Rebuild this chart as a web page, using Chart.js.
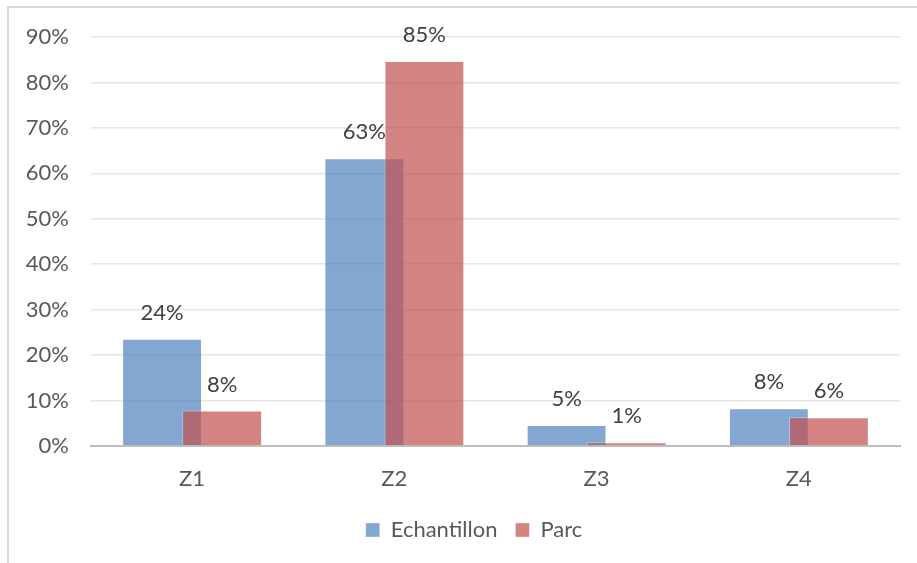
<!DOCTYPE html>
<html>
<head>
<meta charset="utf-8">
<script src="https://cdn.jsdelivr.net/npm/chart.js@4.4.1/dist/chart.umd.min.js"></script>
<style>
  html, body { margin: 0; padding: 0; background: #ffffff; }
  #wrap { position: relative; width: 917px; height: 563px; overflow: hidden; }
  #frame { position: absolute; left: 7px; top: 6px; width: 940px; height: 600px;
           border-left: 2px solid #d9d9d9; border-top: 2px solid #d9d9d9; box-sizing: border-box; }
  #chart { position: absolute; left: 0; top: 0; }
</style>
</head>
<body>
<div id="wrap">
  <div id="frame"></div>
  <canvas id="chart" width="917" height="563"></canvas>
</div>
<script>
// Share of each zone (%), sample vs. fleet
const categories = ['Z1', 'Z2', 'Z3', 'Z4'];
const echantillon = [23.6, 63.3, 4.6, 8.3];
const parc = [7.8, 84.7, 0.8, 6.3];
const seriesNames = ['Echantillon', 'Parc'];

const FONT = 'Lato, "Open Sans", sans-serif';
const BLUE = 'rgba(79, 129, 189, 0.7)';
const RED = 'rgba(192, 80, 77, 0.7)';

// Draw "Parc" after "Echantillon" so it sits on top where the bars overlap,
// then write the value above every bar.
const overlapAndLabels = {
  id: 'overlapAndLabels',
  afterLayout(chart) {
    // centre the legend under the plot area rather than the whole canvas
    const lg = chart.legend;
    if (lg) { lg.left += 24; lg.right += 24; }
  },
  beforeDatasetDraw(chart, args) {
    if (args.index === 1) return false;
  },
  afterDatasetsDraw(chart) {
    const ctx = chart.ctx;
    const redMeta = chart.getDatasetMeta(1);
    if (!redMeta.hidden) redMeta.controller.draw();
    ctx.save();
    ctx.font = '22px ' + FONT;
    ctx.fillStyle = '#404040';
    ctx.textAlign = 'center';
    ctx.textBaseline = 'middle';
    chart.data.datasets.forEach((ds, i) => {
      const meta = chart.getDatasetMeta(i);
      if (meta.hidden) return;
      meta.data.forEach((bar, j) => {
        ctx.fillText(Math.round(ds.data[j]) + '%', bar.x, bar.y - 26);
      });
    });
    ctx.restore();
  }
};

new Chart(document.getElementById('chart'), {
  type: 'bar',
  data: {
    labels: categories,
    datasets: [
      { label: seriesNames[0], data: echantillon, backgroundColor: BLUE,
        borderColor: 'rgba(255,255,255,0.35)', borderWidth: 1 },
      { label: seriesNames[1], data: parc, backgroundColor: RED,
        borderColor: 'rgba(255,255,255,0.35)', borderWidth: 1 }
    ]
  },
  options: {
    responsive: false,
    animation: false,
    devicePixelRatio: 1,
    categoryPercentage: 0.594,
    barPercentage: 1.33,
    layout: { padding: { left: 0, right: 17, top: 37, bottom: 12 } },
    plugins: {
      tooltip: { enabled: false },
      legend: {
        position: 'bottom',
        labels: {
          font: { family: FONT, size: 22 },
          color: '#595959',
          boxWidth: 14,
          boxHeight: 14,
          padding: 18
        }
      }
    },
    scales: {
      x: {
        grid: { display: false, drawTicks: false },
        border: { display: true, color: '#bfbfbf', width: 2 },
        ticks: { font: { family: FONT, size: 22 }, color: '#595959', padding: 20 },
        afterFit(scale) { scale.height = 55; }
      },
      y: {
        min: 0,
        max: 90,
        ticks: {
          stepSize: 10,
          font: { family: FONT, size: 22 },
          color: '#595959',
          padding: 22,
          callback: v => v + '%'
        },
        grid: { color: '#e6e6e6', lineWidth: 1.5, drawTicks: false },
        border: { display: false },
        afterFit(scale) { scale.width = 91; }
      }
    }
  },
  plugins: [overlapAndLabels]
});
</script>
</body>
</html>
